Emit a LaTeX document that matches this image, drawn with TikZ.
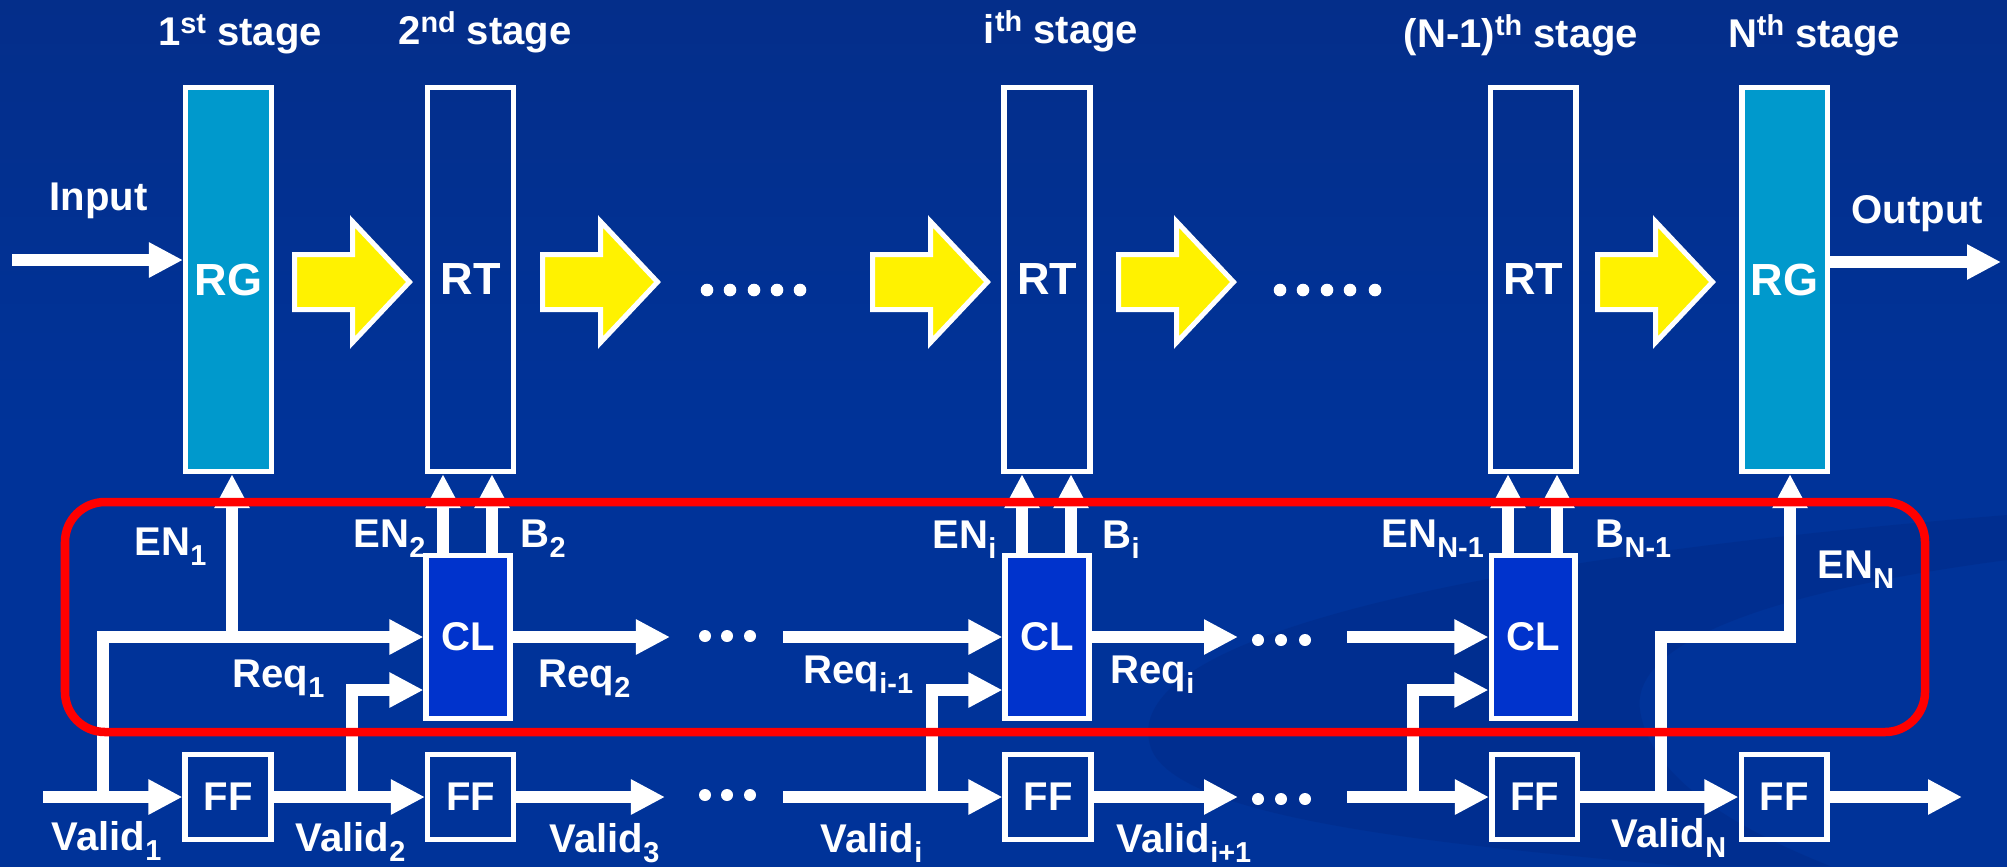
\documentclass[tikz,border=0pt]{standalone}
\usepackage{fontspec}
\usepackage{graphicx}
\setmainfont{Liberation Sans}
\usetikzlibrary{arrows.meta,calc}
\definecolor{bgtop}{RGB}{12,32,100}
\definecolor{bgmid}{RGB}{4,46,138}
\definecolor{bgbot}{RGB}{0,51,153}
\definecolor{rgfill}{RGB}{0,153,204}
\definecolor{clfill}{RGB}{0,51,204}
\definecolor{swooshc}{RGB}{0,30,110}
\pgfdeclareverticalshading{bgsh}{100bp}{color(0bp)=(bgbot); color(50bp)=(bgbot); color(75bp)=(bgmid); color(100bp)=(bgtop)}
\newcommand\sbx[1]{\raisebox{-2.85pt}{\fontsize{8.2pt}{9pt}\selectfont #1}}
\newcommand\spx[1]{\raisebox{3.4pt}{\fontsize{8.2pt}{9pt}\selectfont #1}}
\tikzset{
  stagebox/.style={draw=white, line width=0.055cm, minimum width=0.855cm, minimum height=3.835cm, inner sep=0pt, text=white, font=\fontsize{12.8pt}{14pt}\selectfont\bfseries},
  rgbox/.style={stagebox, fill=rgfill},
  rtbox/.style={stagebox},
  clbox/.style={draw=white, line width=0.055cm, fill=clfill, minimum width=0.835cm, minimum height=1.625cm, inner sep=0pt, text=white, font=\fontsize{11.4pt}{13pt}\selectfont\bfseries},
  ffbox/.style={draw=white, line width=0.055cm, minimum width=0.855cm, minimum height=0.845cm, inner sep=0pt, text=white, font=\fontsize{11.4pt}{13pt}\selectfont\bfseries},
  sig/.style={draw=white, line width=0.115cm, -{Triangle[length=0.34cm,width=0.33cm]}},
  lbl/.style={text=white, font=\fontsize{11.4pt}{13pt}\selectfont\bfseries, inner sep=0pt, anchor=base west},
  hdr/.style={lbl, anchor=base},
  yarrow/.style={fill=yellow, draw=white, line width=0.05cm, line join=miter},
  redloop/.style={draw=red, line width=0.085cm, rounded corners=0.4cm}
}
\begin{document}
\begin{tikzpicture}[x=0.01cm,y=-0.01cm]
\useasboundingbox (0,0) rectangle (2007,866);
\shade[shading=bgsh] (0,0) rectangle (2007,866);
% faint background swoosh
\fill[swooshc, opacity=0.2] (1150,745) .. controls (1120,640) and (1450,560) .. (2007,515)
  -- (2007,560) .. controls (1780,590) and (1630,640) .. (1640,710)
  .. controls (1650,780) and (1740,830) .. (1830,866) -- (1680,866)
  .. controls (1450,845) and (1170,820) .. (1150,745) -- cycle;

% stage registers
\node[rgbox] (RG1) at (228.5,279.5) {RG};
\node[rtbox] (RT2) at (470.5,279.5) {RT};
\node[rtbox] (RTi) at (1047,279.5) {RT};
\node[rtbox] (RTn1) at (1533,279.5) {RT};
\node[rgbox] (RGN) at (1784.5,279.5) {RG};

% headers
\node[hdr] (h1) at (240,45) {1\spx{st} stage};
\node[hdr] (h2) at (485,44) {2\spx{nd} stage};
\node[hdr] (hi) at (1061,43) {i\spx{th} stage};
\node[hdr] (hn1) at (1521,47) {(N-1)\spx{th} stage};
\node[hdr] (hn) at (1814,47) {N\spx{th} stage};

% input / output
\node[lbl] (inlbl) at (49,210) {Input};
\node[lbl] (outlbl) at (1851,223) {Output};
\coordinate (inS) at (12,260);
\draw[sig] (inS) -- (inS -| RG1.west);
\coordinate (outE) at (2001,262);
\draw[sig] (outE -| RGN.east) -- (outE);

% yellow block arrows
\foreach \x in {292,540,870,1116,1595} {
  \draw[yarrow] (\x+2.5,254.5) -- (\x+60.5,254.5) -- (\x+60.5,221.5) -- (\x+117.5,282)
    -- (\x+60.5,342.5) -- (\x+60.5,309.5) -- (\x+2.5,309.5) -- cycle;
}
% top dots
\foreach \x in {707,730,754,777,800,1280,1303,1327,1350,1375} {
  \fill[white] (\x,290) circle (0.063cm);
}

% control logic and flip-flops
\node[clbox] (CL2) at (468,637) {CL};
\node[clbox] (CLi) at (1047,637) {CL};
\node[clbox] (CLn1) at (1533,637) {CL};
\node[ffbox] (FF1) at (228,797) {FF};
\node[ffbox] (FF2) at (470.5,797) {FF};
\node[ffbox] (FFi) at (1048,797) {FF};
\node[ffbox] (FFn1) at (1534.5,797) {FF};
\node[ffbox] (FFN) at (1784,797) {FF};

% stage 1 / 2 wiring
\coordinate (v1s) at (43,797);
\draw[sig] (v1s) -- (FF1.west);
\coordinate (j1) at (103,797);
\draw[sig] (j1) |- (CL2.west);
\coordinate (e1) at (232,637);
\draw[sig] (e1) -- (e1 |- RG1.south);
\draw[sig] (FF1.east) -- (FF2.west);
\coordinate (j2) at (352,797);
\coordinate (c2b) at ($(CL2.west)+(0,53)$);
\draw[sig] (j2) |- (c2b);
\coordinate (en2) at ($(CL2.north)+(-25,0)$);
\coordinate (b2) at ($(CL2.north)+(24,0)$);
\draw[sig] (en2) -- (en2 |- RT2.south);
\draw[sig] (b2) -- (b2 |- RT2.south);
\coordinate (r2e) at (670,637);
\draw[sig] (CL2.east) -- (r2e);
\coordinate (v3e) at (665,797);
\draw[sig] (FF2.east) -- (v3e);

% middle dots
\foreach \x in {705,727,750} {
  \fill[white] (\x,636) circle (0.06cm);
  \fill[white] (\x,795) circle (0.06cm);
}
\foreach \x in {1258,1281,1305} {
  \fill[white] (\x,640) circle (0.06cm);
  \fill[white] (\x,799) circle (0.06cm);
}

% stage i wiring
\coordinate (ri) at (783,637);
\draw[sig] (ri) -- (CLi.west);
\coordinate (vi) at (783,797);
\draw[sig] (vi) -- (FFi.west);
\coordinate (j3) at (932,797);
\coordinate (cib) at ($(CLi.west)+(0,53)$);
\draw[sig] (j3) |- (cib);
\coordinate (eni) at ($(CLi.north)+(-25,0)$);
\coordinate (bi) at ($(CLi.north)+(24,0)$);
\draw[sig] (eni) -- (eni |- RTi.south);
\draw[sig] (bi) -- (bi |- RTi.south);
\coordinate (rie) at (1238,637);
\draw[sig] (CLi.east) -- (rie);
\coordinate (vie) at (1238,797);
\draw[sig] (FFi.east) -- (vie);

% stage N-1 / N wiring
\coordinate (rn) at (1347,637);
\draw[sig] (rn) -- (CLn1.west);
\coordinate (vn) at (1347,797);
\draw[sig] (vn) -- (FFn1.west);
\coordinate (j4) at (1413,797);
\coordinate (cnb) at ($(CLn1.west)+(0,53)$);
\draw[sig] (j4) |- (cnb);
\coordinate (enn1) at ($(CLn1.north)+(-25,0)$);
\coordinate (bn1) at ($(CLn1.north)+(24,0)$);
\draw[sig] (enn1) -- (enn1 |- RTn1.south);
\draw[sig] (bn1) -- (bn1 |- RTn1.south);
\draw[sig] (FFn1.east) -- (FFN.west);
\coordinate (j5) at (1661,797);
\coordinate (eN) at (1790,637);
\draw[sig] (j5) |- (eN) -- (eN |- RGN.south);
\coordinate (vout) at (1962,797);
\draw[sig] (FFN.east) -- (vout);

% labels
\node[lbl] (lEN1) at (134,555) {EN\sbx{1}};
\node[lbl] (lReq1) at (232,687) {Req\sbx{1}};
\node[lbl] (lEN2) at (353,547) {EN\sbx{2}};
\node[lbl] (lB2) at (520,547) {B\sbx{2}};
\node[lbl] (lReq2) at (538,687) {Req\sbx{2}};
\node[lbl] (lV1) at (51,850) {Valid\sbx{1}};
\node[lbl] (lV2) at (295,851) {Valid\sbx{2}};
\node[lbl] (lV3) at (549,852) {Valid\sbx{3}};
\node[lbl] (lENi) at (932,548) {EN\sbx{i}};
\node[lbl] (lBi) at (1102,548) {B\sbx{i}};
\node[lbl] (lReqim) at (803,683) {Req\sbx{i-1}};
\node[lbl] (lReqi) at (1110,683) {Req\sbx{i}};
\node[lbl] (lVi) at (820,852) {Valid\sbx{i}};
\node[lbl] (lVip) at (1116,852) {Valid\sbx{i+1}};
\node[lbl] (lENn1) at (1381,547) {EN\sbx{N-1}};
\node[lbl] (lBn1) at (1595,547) {B\sbx{N-1}};
\node[lbl] (lENN) at (1817,578) {EN\sbx{N}};
\node[lbl] (lVN) at (1611,847) {Valid\sbx{N}};

% red control-path outline
\draw[redloop] (65,502) rectangle (1925,732);
\end{tikzpicture}
\end{document}
